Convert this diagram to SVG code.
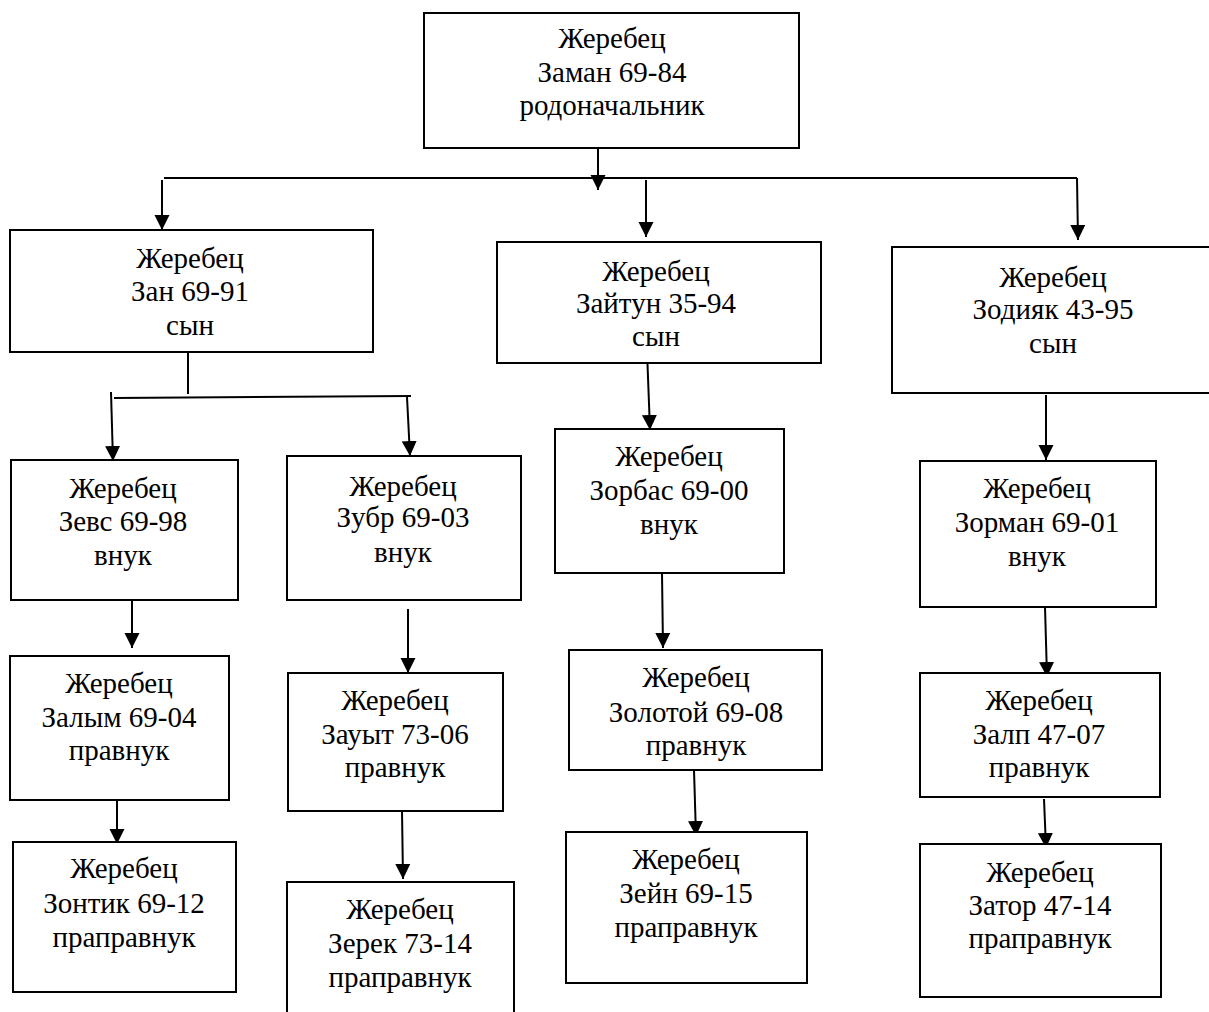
<svg xmlns="http://www.w3.org/2000/svg" width="1209" height="1012" viewBox="0 0 1209 1012">
<style>
.box{fill:#fff;stroke:#000;stroke-width:2}
.t{font-family:"Liberation Serif","Times New Roman",serif;font-size:29px;fill:#000;text-anchor:middle}
.c{fill:none;stroke:#000;stroke-width:2}
.a{marker-end:url(#arr)}
</style>
<defs>
<marker id="arr" markerUnits="userSpaceOnUse" markerWidth="16" markerHeight="16" viewBox="0 0 16 16" refX="15" refY="7.5" orient="auto">
<path d="M0,0 L15,7.5 L0,15 Z" fill="#000"/>
</marker>
</defs>
<rect width="1209" height="1012" fill="#fff"/>
<g id="connectors">
<line class="c a" x1="598" y1="148" x2="598" y2="190"/>
<line class="c" x1="164" y1="178" x2="1077" y2="178"/>
<line class="c a" x1="162" y1="180" x2="162" y2="230"/>
<line class="c a" x1="646" y1="180" x2="646" y2="237"/>
<line class="c a" x1="1077" y1="178" x2="1078" y2="240"/>
<line class="c" x1="188" y1="344" x2="188" y2="394"/>
<line class="c" x1="114" y1="398" x2="411" y2="396"/>
<line class="c a" x1="111" y1="392" x2="113" y2="461"/>
<line class="c a" x1="407" y1="397" x2="410" y2="456"/>
<line class="c a" x1="647" y1="351" x2="650" y2="430"/>
<line class="c a" x1="1046" y1="395" x2="1046" y2="460"/>
<line class="c a" x1="132" y1="595" x2="132" y2="648"/>
<line class="c a" x1="408" y1="609" x2="408" y2="673"/>
<line class="c a" x1="662" y1="573" x2="663" y2="648"/>
<line class="c a" x1="1045" y1="607" x2="1047" y2="677"/>
<line class="c a" x1="117" y1="800" x2="117" y2="844"/>
<line class="c a" x1="402" y1="811" x2="403" y2="879"/>
<line class="c a" x1="694" y1="770" x2="696" y2="836"/>
<line class="c a" x1="1044" y1="799" x2="1046" y2="848"/>
</g>
<g id="n-zaman"><rect class="box" x="424" y="13" width="375" height="135"/>
<text class="t" x="612" y="48">Жеребец</text><text class="t" x="612" y="82">Заман 69-84</text><text class="t" x="612" y="115">родоначальник</text></g>
<g id="n-zan"><rect class="box" x="10" y="230" width="363" height="122"/>
<text class="t" x="190" y="268">Жеребец</text><text class="t" x="190" y="301">Зан 69-91</text><text class="t" x="190" y="335">сын</text></g>
<g id="n-zaitun"><rect class="box" x="497" y="242" width="324" height="121"/>
<text class="t" x="656" y="281">Жеребец</text><text class="t" x="656" y="313">Зайтун 35-94</text><text class="t" x="656" y="346">сын</text></g>
<g id="n-zodiak"><rect class="box" x="892" y="247" width="323" height="146"/>
<text class="t" x="1053" y="287">Жеребец</text><text class="t" x="1053" y="319">Зодияк 43-95</text><text class="t" x="1053" y="353">сын</text></g>
<g id="n-zevs"><rect class="box" x="11" y="460" width="227" height="140"/>
<text class="t" x="123" y="498">Жеребец</text><text class="t" x="123" y="531">Зевс 69-98</text><text class="t" x="123" y="565">внук</text></g>
<g id="n-zubr"><rect class="box" x="287" y="456" width="234" height="144"/>
<text class="t" x="403" y="496">Жеребец</text><text class="t" x="403" y="527">Зубр 69-03</text><text class="t" x="403" y="562">внук</text></g>
<g id="n-zorbas"><rect class="box" x="555" y="429" width="229" height="144"/>
<text class="t" x="669" y="466">Жеребец</text><text class="t" x="669" y="500">Зорбас 69-00</text><text class="t" x="669" y="534">внук</text></g>
<g id="n-zorman"><rect class="box" x="920" y="461" width="236" height="146"/>
<text class="t" x="1037" y="498">Жеребец</text><text class="t" x="1037" y="532">Зорман 69-01</text><text class="t" x="1037" y="566">внук</text></g>
<g id="n-zalym"><rect class="box" x="10" y="656" width="219" height="144"/>
<text class="t" x="119" y="693">Жеребец</text><text class="t" x="119" y="727">Залым 69-04</text><text class="t" x="119" y="760">правнук</text></g>
<g id="n-zauyt"><rect class="box" x="288" y="673" width="215" height="138"/>
<text class="t" x="395" y="710">Жеребец</text><text class="t" x="395" y="744">Зауыт 73-06</text><text class="t" x="395" y="777">правнук</text></g>
<g id="n-zolotoi"><rect class="box" x="569" y="650" width="253" height="120"/>
<text class="t" x="696" y="687">Жеребец</text><text class="t" x="696" y="722">Золотой 69-08</text><text class="t" x="696" y="755">правнук</text></g>
<g id="n-zalp"><rect class="box" x="920" y="673" width="240" height="124"/>
<text class="t" x="1039" y="710">Жеребец</text><text class="t" x="1039" y="744">Залп 47-07</text><text class="t" x="1039" y="777">правнук</text></g>
<g id="n-zontik"><rect class="box" x="13" y="842" width="223" height="150"/>
<text class="t" x="124" y="878">Жеребец</text><text class="t" x="124" y="913">Зонтик 69-12</text><text class="t" x="124" y="947">праправнук</text></g>
<g id="n-zerek"><rect class="box" x="287" y="882" width="227" height="140"/>
<text class="t" x="400" y="919">Жеребец</text><text class="t" x="400" y="953">Зерек 73-14</text><text class="t" x="400" y="987">праправнук</text></g>
<g id="n-zein"><rect class="box" x="566" y="832" width="241" height="151"/>
<text class="t" x="686" y="869">Жеребец</text><text class="t" x="686" y="903">Зейн 69-15</text><text class="t" x="686" y="937">праправнук</text></g>
<g id="n-zator"><rect class="box" x="920" y="844" width="241" height="153"/>
<text class="t" x="1040" y="882">Жеребец</text><text class="t" x="1040" y="915">Затор 47-14</text><text class="t" x="1040" y="948">праправнук</text></g>
</svg>
